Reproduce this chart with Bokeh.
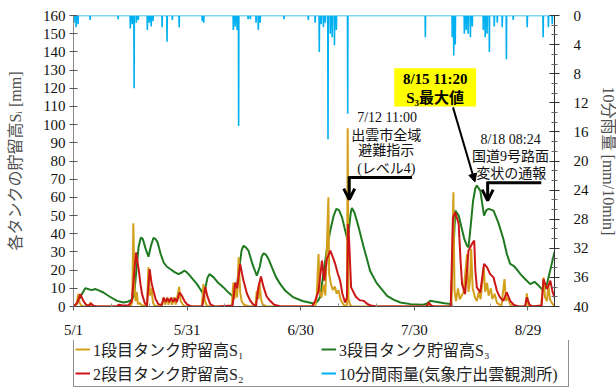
from bokeh.plotting import figure
from bokeh.models import (Range1d, LinearAxis, FixedTicker, Legend, LegendItem,
                          Label, BoxAnnotation, Arrow, OpenHead, NormalHead)
from bokeh.embed import file_html
from bokeh.resources import INLINE

# ---------------- data (x = days since 5/1 00:00) ----------------
s1_day = [0, 0.8, 1.3, 1.6, 2.2, 3, 4.2, 4.4, 4.8, 5.5,
          11.5, 11.8, 12.2, 15, 15.5, 15.8, 16.1, 16.4, 16.7, 17, 17.5, 18, 19.4, 19.8, 20.2, 20.6, 21, 21.5,
          23.3, 23.8, 24.2, 24.7, 25.1, 25.6, 26, 26.6, 27, 27.9, 28.3, 28.9, 29.5,
          33.9, 34.3, 34.7, 35.2, 36,
          41.8, 42.2, 42.5, 42.9, 43.2, 43.6, 44, 44.4, 45, 46,
          48, 48.4, 48.8, 49.1, 49.5, 50, 51,
          63.8, 64.2, 64.7, 65, 65.5, 66, 66.5, 67.3, 67.5, 68, 68.5, 69, 69.5, 70, 70.5, 71, 71.5, 72.2, 72.4, 72.6, 73, 73.5,
          93.5, 93.8, 94.2,
          99.8, 100.3, 100.6, 101, 101.5, 102, 103, 103.9, 104.3, 104.7, 105, 105.4, 106, 106.5, 107, 107.5, 108.3,
          108.7, 109.2, 109.6, 110.2, 110.6, 111.2, 111.8, 112.5, 113, 113.8, 114.2, 114.7, 115.3, 116,
          119.4, 119.7, 120.1, 121,
          123.5, 124.1, 124.5, 125, 125.4, 125.8, 126.3, 127]
s1_val = [0, 1, 7, 2, 0.3, 0, 0.5, 2.2, 0.5, 0,
          0, 1.0, 0, 0, 2, 45.7, 10, 3, 8, 1.3, 2, 0.5, 0.5, 21.5, 6, 10, 2, 0.3,
          0.3, 5, 1, 5, 1, 4.5, 1, 5, 1, 10.8, 3, 1, 0,
          0, 12.3, 3, 0.5, 0,
          0, 13.2, 4, 11, 5, 27, 8, 3, 1, 0.3,
          0, 8.6, 4, 13.2, 4, 1, 0,
          0, 5, 28.9, 8, 5, 12, 6, 60, 17.8, 12, 9, 11, 7, 9, 4, 2, 0.5, 0.5, 98, 4, 1, 0,
          0, 2.5, 0,
          0, 62.8, 8.6, 3, 10, 4, 8, 28.9, 8, 14, 31.8, 10, 5, 3, 8, 4, 21.5,
          8, 13, 6, 10, 4, 7, 2, 1, 0.5, 15.1, 3, 5, 1, 0,
          0, 7.2, 0.5, 0,
          0.5, 16, 5, 3, 11.7, 4, 2, 0]

s2_day = [0, 1.0, 1.8, 2.6, 3.3, 4, 4.6, 5.3, 6,
          11.5, 12, 13, 14.5, 15.4, 16.5, 17.2, 17.7, 18.1, 18.8, 19.4, 20.1, 20.6, 21.1, 21.7, 22.4,
          23.3, 23.8, 24.3, 24.8, 25.3, 25.8, 26.3, 26.8, 27.3, 28, 28.6, 29.3, 30, 30.8, 31.5,
          34, 34.8, 35.3, 36.1, 37, 38,
          42, 42.7, 43.2, 44, 44.5, 44.9, 45.8, 46.7, 47.5, 48.2, 48.8, 49.5, 50.2, 51, 51.9, 53, 54.5, 55.5,
          63, 63.8, 64.7, 65.6, 66.2, 66.9, 67.8, 68.5, 69.1, 69.8, 70.4, 71, 71.7, 72.2, 72.5, 72.8, 73.3,
          74.5, 75.5, 76.6, 77.5, 78.5, 80,
          93.2, 93.8, 94.5, 95.2,
          99.6, 100.2, 100.8, 101.7, 102.2, 102.6, 103.4, 104.3, 105.2, 105.8, 106.1, 106.5, 107.4, 108.4,
          109.2, 110, 110.9, 111.8, 112.6, 113.5, 114.4, 115.3, 116.3, 117.5,
          119.2, 119.7, 120.4, 121.2,
          123.6, 124.1, 125, 125.9, 126.5, 127]
s2_val = [0, 2, 6.8, 3.1, 1, 0.4, 1.7, 0.4, 0,
          0, 1, 0.5, 0.5, 3.1, 29.7, 20.6, 12, 6.8, 2, 0.4, 20.6, 13, 8.6, 4, 1.3,
          0.8, 4.8, 2.5, 4.5, 2.5, 4.8, 2.5, 4.5, 2.5, 7.7, 6, 3, 1.2, 0.3, 0,
          0, 10.8, 6, 1.3, 0.2, 0,
          0.5, 13.2, 10, 23.4, 18, 14.2, 7, 3.1, 1, 0.3, 10.5, 16.5, 10.5, 5.5, 3.1, 1, 0.2, 0,
          0, 3.1, 8.6, 25.2, 14.2, 26, 30.7, 27, 23.4, 18, 14.2, 7, 2.2, 5, 45.4, 35, 10.5,
          5.5, 3.5, 3.1, 1.5, 0.5, 0,
          0, 2.2, 0.5, 0,
          0, 49, 51.8, 45.4, 25, 12.3, 6.8, 30.7, 34.4, 36.2, 20, 10.5, 7.7, 23.4,
          21.5, 17.8, 16, 8.6, 5, 3.1, 7.7, 3.1, 0.8, 0,
          0, 5, 1, 0,
          0.5, 15.1, 9.6, 14.2, 8, 5]

s3_day = [0, 1, 2, 3.1, 4, 4.9, 5.7, 6.5, 7.9, 9.5, 11.5, 13.2, 14.5, 15.4, 16, 16.6, 17.2, 17.8, 18.3, 19,
          19.8, 20.4, 21.1, 21.7, 22.2, 23, 23.8, 24.6, 25.5, 26.6, 27.7, 28.6, 29.2, 29.8, 30.4, 31.5,
          32.6, 33.5, 34.3, 34.8, 35.4, 35.9, 37, 38.2, 39.6, 41, 42.2, 43.1, 43.8, 44.4, 44.9, 45.5,
          46.2, 47.3, 48.4, 49.2, 49.7, 50.2, 50.8, 51.5, 52.5, 53.5, 54.6, 56, 58.1, 60.5, 63.4, 64.3,
          65.1, 66, 66.9, 67.8, 68.7, 69.4, 70.1, 70.9, 71.7, 72.4, 72.8, 73.2, 73.5, 74.2, 75.3, 76.5,
          77.5, 78.3, 80, 82.8, 84.5, 86.3, 89, 92, 93.2, 94.2, 96, 98, 99.6, 100.2, 100.8, 101.7,
          102.5, 103.2, 103.9, 104.3, 104.9, 105.5, 106.1, 106.5, 107.4, 108.4, 109, 109.6, 110.9,
          112.2, 113.5, 114.4, 115.3, 116.2, 117, 118, 119.3, 120.6, 121.7, 122.8, 124.1, 125, 126, 127]
s3_val = [0, 2, 6, 10.1, 9.5, 9.0, 9.6, 9, 7.7, 5.5, 3.1, 2.2, 2.8, 3.7, 5.9, 20, 33, 38, 37.1, 32,
          27.4, 33, 37.7, 37, 35.3, 29, 24.2, 22, 20.6, 19, 17.8, 18.7, 19.7, 19, 17.8, 15,
          12.3, 9.5, 6.8, 10, 16, 17.8, 16, 13, 10.5, 7.5, 5.3, 10.5, 22, 31, 33.4, 32.5,
          30.7, 23, 16.9, 22, 27.5, 29.2, 28.5, 26.1, 21, 16, 12.3, 8.5, 5, 3, 1.7, 2.5,
          5, 18, 31.6, 41.7, 50, 53.7, 53, 49, 42, 36.2, 44, 51.5, 54.2, 51.5, 43.5, 33.5,
          26, 19.7, 13, 5.9, 3.8, 2.2, 1.3, 0.9, 1.5, 3.1, 2.5, 1.8, 1.3, 25, 52.7, 50,
          43, 37, 33.4, 32.5, 45, 58, 65, 66.5, 63.7, 50, 53, 53.7, 52.7,
          46, 37.1, 29, 23.4, 22.4, 20.5, 17.8, 15, 12.3, 13.6, 11.5, 8.6, 12.3, 21, 30]

# 10-minute rainfall (mm/10min)
rain_day = [0.2, 0.7, 1.2, 4.4, 11.8, 15, 15.5, 16, 16.6, 17.1, 19.5, 20, 20.5, 21, 23.4, 24.7, 26.1, 27.9,
            34, 34.4, 42.2, 42.7, 43.2, 43.6, 46.1, 46.7, 48.2, 48.8, 49.3, 55.6, 62, 63.8, 64.9, 65.4,
            66, 66.5, 67.2, 67.8, 68.3, 68.9, 69.4, 72.4, 92.9, 100.0, 100.4, 100.8, 103.2, 103.7, 104.2,
            104.8, 105.3, 108.2, 108.7, 109.2, 109.8, 111.1, 111.9, 113.2, 114.3, 116.1, 119.8, 124,
            125.4, 126.4]
rain_val = [1.0, 1.6, 1.2, 0.6, 0.5, 1.8, 1.2, 10.0, 1.0, 0.6, 2.0, 1.0, 1.5, 0.8, 1.6, 3.6, 0.6, 1.6,
            0.8, 1.0, 2.0, 1.5, 2.0, 15.2, 0.5, 0.5, 1.0, 2.0, 1.0, 0.5, 0.6, 1.0, 5.0, 1.2,
            1.6, 1.0, 17.0, 2.5, 3.0, 4.1, 2.0, 13.5, 3.0, 3.0, 5.5, 4.0, 2.5, 2.0, 2.5,
            3.0, 1.5, 2.0, 3.0, 2.5, 5.0, 1.5, 1.0, 1.6, 6.0, 0.6, 1.6, 3.0,
            1.6, 1.2]

x_tick_days = [0, 30, 60, 90, 120]
x_tick_labels = ["5/1", "5/31", "6/30", "7/30", "8/29"]
y_ticks = list(range(0, 161, 10))
rain_ticks = list(range(0, 41, 4))

legend_labels = ["1段目タンク貯留高S₁", "2段目タンク貯留高S₂",
                 "3段目タンク貯留高S₃", "10分間雨量(気象庁出雲観測所)"]

X_MAX = 127

# rain drawn as a hanging line from the 0 baseline
rx, ry = [0], [0]
for d, v in zip(rain_day, rain_val):
    rx += [d - 0.06, d, d + 0.06]
    ry += [0, v, 0]
rx.append(X_MAX)
ry.append(0)

FONT = "Liberation Serif, Noto Sans CJK JP"
C1, C2, C3, CR = "#D4A01C", "#CC1616", "#1F7A1F", "#00B0F0"

p = figure(frame_width=481, frame_height=291, min_border_left=73, min_border_right=62,
           min_border_top=15, min_border_bottom=33,
           x_range=Range1d(0, X_MAX), y_range=Range1d(0, 160),
           output_backend="svg", toolbar_location=None)
p.extra_y_ranges = {"rain": Range1d(start=40, end=0)}
p.outline_line_color = None
p.xgrid.visible = False
p.ygrid.visible = False
p.background_fill_color = "white"
p.border_fill_color = "white"

r3 = p.line(s3_day, s3_val, line_color=C3, line_width=2)
r1 = p.line(s1_day, s1_val, line_color=C1, line_width=2)
r2 = p.line(s2_day, s2_val, line_color=C2, line_width=2)
rr = p.line(rx, ry, line_color=CR, line_width=1.6, y_range_name="rain")

# axes
xa = p.xaxis[0]
minor_x = [d for d in range(10, X_MAX, 10) if d % 30 != 0]
xa.ticker = FixedTicker(ticks=x_tick_days, minor_ticks=minor_x)
xa.major_label_overrides = {d: l for d, l in zip(x_tick_days, x_tick_labels)}
xa.major_label_text_font = "Liberation Serif"
xa.major_label_text_font_size = "15px"
xa.major_label_text_color = "#111111"
xa.major_tick_out = 4
xa.major_tick_in = 0
xa.minor_tick_in = 3
xa.minor_tick_out = 0
xa.major_label_standoff = 11
xa.axis_line_color = "#444444"
xa.major_tick_line_color = "#666666"
xa.minor_tick_line_color = "#999999"

ya = p.yaxis[0]
ya.ticker = FixedTicker(ticks=y_ticks)
ya.major_label_text_font = "Liberation Serif"
ya.major_label_text_font_size = "15px"
ya.major_label_text_color = "#111111"
ya.major_tick_in = 4
ya.major_tick_out = 4
ya.minor_tick_line_color = None
ya.major_label_standoff = 4
ya.axis_line_color = "#8a8a8a"
ya.major_tick_line_color = "#555555"
ya.axis_label = "各タンクの貯留高Sᵢ [mm]"
ya.axis_label_text_font = FONT
ya.axis_label_text_font_size = "16px"
ya.axis_label_text_font_style = "normal"
ya.axis_label_text_color = "#505050"
ya.axis_label_standoff = 16

ra = LinearAxis(y_range_name="rain")
ra.ticker = FixedTicker(ticks=rain_ticks,
                        minor_ticks=[t + k * 4 / 3 for t in rain_ticks[:-1] for k in (1, 2)])
ra.major_label_text_font = "Liberation Serif"
ra.major_label_text_font_size = "15px"
ra.major_label_text_color = "#111111"
ra.major_tick_in = 5
ra.major_tick_out = 5
ra.minor_tick_in = 3
ra.minor_tick_out = 3
ra.major_label_standoff = 14
ra.axis_line_color = "#333333"
ra.major_tick_line_color = "#333333"
ra.minor_tick_line_color = "#666666"
ra.axis_label = "10分雨量 [mm/10min]"
ra.axis_label_text_font = FONT
ra.axis_label_text_font_size = "16px"
ra.axis_label_text_font_style = "normal"
ra.axis_label_text_color = "#505050"
ra.axis_label_standoff = 8
p.add_layout(ra, "right")

# annotations: 7/12
for txt, xd, ym in [("7/12 11:00", 82.8, 104.0), ("出雲市全域", 82.6, 94.0),
                    ("避難指示", 82.6, 85.8), ("(レベル4)", 82.6, 75.9)]:
    p.add_layout(Label(x=xd, y=ym, text=txt, text_align="center", text_baseline="middle",
                       text_font=FONT, text_font_size="14px", text_color="#111111"))
p.add_layout(Arrow(end=None, x_start=89.4, y_start=70.9, x_end=72.8, y_end=70.9,
                   line_width=3, line_color="black"))
p.add_layout(Arrow(end=OpenHead(size=11, line_width=3, line_color="black"),
                   x_start=72.8, y_start=71.6, x_end=72.8, y_end=58.8,
                   line_width=3, line_color="black"))

# annotations: 8/15 S3 max
p.add_layout(BoxAnnotation(left=84.7, right=106.3, bottom=110, top=131,
                           fill_color="#FFFF00", fill_alpha=1, line_color=None))
p.add_layout(Label(x=95.5, y=125.3, text="8/15 11:20", text_align="center", text_baseline="middle",
                   text_font=FONT, text_font_size="15px", text_font_style="bold", text_color="black"))
p.add_layout(Label(x=95.5, y=114.6, text="S₃最大値", text_align="center", text_baseline="middle",
                   text_font=FONT, text_font_size="15px", text_font_style="bold", text_color="black"))
p.add_layout(Arrow(end=NormalHead(size=8, fill_color="black", line_color="black"),
                   x_start=100.2, y_start=109.5, x_end=106.0, y_end=68.5,
                   line_width=2, line_color="black"))

# annotations: 8/18
for txt, xd, ym in [("8/18 08:24", 115.4, 91.7), ("国道9号路面", 115.4, 82.5),
                    ("変状の通報", 115.6, 73.4)]:
    p.add_layout(Label(x=xd, y=ym, text=txt, text_align="center", text_baseline="middle",
                       text_font=FONT, text_font_size="14px", text_color="#111111"))
p.add_layout(Arrow(end=None, x_start=123.5, y_start=68.0, x_end=109.35, y_end=68.0,
                   line_width=3, line_color="black"))
p.add_layout(Arrow(end=OpenHead(size=11, line_width=3, line_color="black"),
                   x_start=109.35, y_start=68.7, x_end=109.35, y_end=58.2,
                   line_width=3, line_color="black"))

# ---------------- legend strip (separate root below) ----------------
# same series, viewed through an empty y window so only the legend shows
lg = figure(width=616, height=48, min_border=0, x_range=Range1d(0, X_MAX), y_range=Range1d(-20, -10),
            x_axis_location=None, y_axis_location=None,
            output_backend="svg", toolbar_location=None)
lg.outline_line_color = None
lg.xgrid.visible = False
lg.ygrid.visible = False
lr = [lg.line(s1_day, s1_val, line_color=C1, line_width=2),
      lg.line(s2_day, s2_val, line_color=C2, line_width=2),
      lg.line(s3_day, s3_val, line_color=C3, line_width=2),
      lg.line(rx, ry, line_color=CR, line_width=2)]
legend = Legend(items=[LegendItem(label=t, renderers=[r]) for t, r in zip(legend_labels, lr)],
                location=(73, 1), orientation="vertical", ncols=2,
                border_line_color="#222222", border_line_width=1,
                label_text_font=FONT, label_text_font_size="16px", label_text_color="#222222",
                glyph_width=15, glyph_height=22, label_height=22, label_width=228,
                label_standoff=3, spacing=0, padding=1, margin=0, background_fill_alpha=1)
lg.add_layout(legend)

open("out.html", "w").write(file_html([p, lg], INLINE))
